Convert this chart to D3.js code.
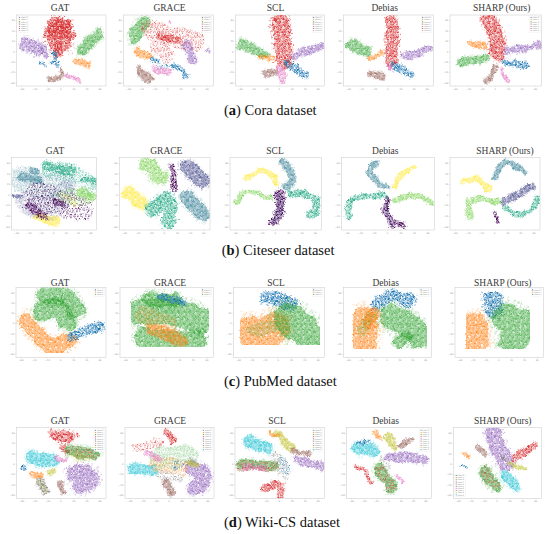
<!DOCTYPE html>
<html><head><meta charset="utf-8">
<script src="https://cdn.jsdelivr.net/npm/d3@7"></script>
<style>body{margin:0;background:#fff}svg{display:block}</style>
</head><body>
<svg id="fig" width="550" height="534"></svg>
<script>
// ---------------- data ----------------
const methods = ["GAT", "GRACE", "SCL", "Debias", "SHARP (Ours)"];
const datasets = ["Cora", "Citeseer", "PubMed", "Wiki-CS"];
const captionLetters = ["a", "b", "c", "d"];
const tab10 = ["#1f77b4","#ff7f0e","#2ca02c","#d62728","#9467bd","#8c564b","#e377c2","#7f7f7f","#bcbd22","#17becf"];
const viridis6 = ["#440154","#414487","#2a788e","#22a884","#7ad151","#fde725"];
const coraClasses = ["class 0","class 1","class 2","class 3","class 4","class 5","class 6"];
const pubmedClasses = ["class 0","class 1","class 2"];
const wikiClasses = ["class 0","class 1","class 2","class 3","class 4","class 5","class 6","class 7","class 8","class 9"];
const xTickLabels = [-60, -40, -20, 0, 20, 40, 60];
const yTickLabels = [-60, -40, -20, 0, 20, 40, 60];

// clusters of t-SNE points: c = class, s = spread, d = density (0 = sparse), p = ridge of the cluster (0..100 units)
const coraGAT = [
 {c:3,s:14,p:[[41,90.6],[54.1,87.3]]},
 {c:3,s:27,p:[[47.8,78.9],[46.6,64]]},
 {c:3,s:10,p:[[34,76],[60,72]]},
 {c:3,s:11,p:[[45.5,57.7],[45.5,46]]},
 {c:4,s:16,p:[[9.3,60.1],[24.3,53.1]]},
 {c:4,s:4.5,p:[[26.1,50.7],[31.7,43.7]]},
 {c:2,s:12,p:[[70.9,50.7],[82.1,62.4],[90.3,74.2]]},
 {c:1,s:7,p:[[65.3,36.6],[78.4,31]]},
 {c:0,s:5,p:[[40.3,50.7],[42.9,41.3]]},
 {c:0,s:4.5,p:[[26.9,32.9],[31.7,31]]},
 {c:0,s:5,p:[[40.3,35.7],[45.5,29.6]]},
 {c:5,s:7,p:[[36.6,9.9],[47.8,12.2]]},
 {c:5,s:4.5,p:[[49.3,23.5],[51.5,15.5]]},
 {c:6,s:5,p:[[56,15.5],[69,9.4]]}
];
const coraGRACE = [
 {c:2,s:15,p:[[22.2,92],[14.8,78.9],[11.1,70.4]]},
 {c:3,s:22,d:0,p:[[29.6,81.2],[55.6,69.5],[79.6,64.8]]},
 {c:3,s:15,d:0,p:[[37,57.7],[48.1,43.7]]},
 {c:3,s:8,p:[[40,72],[60,66]]},
 {c:6,s:3,p:[[50.5,94],[53,92]]},
 {c:4,s:9,p:[[70.4,60.1],[75.9,37.6]]},
 {c:4,s:4,p:[[92.5,51.5],[94,49.5]]},
 {c:1,s:9,p:[[14.8,49.8],[27.8,43.7]]},
 {c:0,s:6,p:[[31.5,37.6],[36,36]]},
 {c:0,s:7,p:[[57.4,29.6],[67.4,15.5]]},
 {c:5,s:9,p:[[16.7,21.6],[28.9,10.8]]},
 {c:6,s:7,p:[[33.3,24.9],[50,18.8]]},
 {c:0,s:8,d:0,p:[[40,30],[55,28]]}
];
const coraSCL = [
 {c:3,s:19,p:[[50.2,93],[52.1,64.8],[53.9,36.6]]},
 {c:2,s:11,p:[[5.2,60.1],[31.5,46.9]]},
 {c:1,s:5.6,p:[[28.8,42.3],[40.8,39]]},
 {c:4,s:9,p:[[65.2,45],[80.1,50.7],[95.1,57.7]]},
 {c:0,s:9,p:[[57.7,31.9],[77.2,16.9]]},
 {c:5,s:8,p:[[31.5,16.9],[42.7,20.2]]},
 {c:6,s:7,p:[[48.3,24.9],[52.1,8.5]]}
];
const coraDebias = [
 {c:3,s:15,p:[[51.9,93],[53.7,64.8],[51.9,36.6]]},
 {c:2,s:12,p:[[6.3,60.1],[24.1,49.8]]},
 {c:1,s:6,p:[[28.5,41.3],[41.9,46]]},
 {c:4,s:8,p:[[66.7,43.7],[81.5,47],[94.4,53]]},
 {c:0,s:9,p:[[55.6,29.6],[74.1,17.8]]},
 {c:5,s:9,p:[[29.6,18.8],[41.9,14]]},
 {c:6,s:4,p:[[48.1,31],[51.9,24.9]]}
];
const coraSHARP = [
 {c:3,s:17,p:[[41.8,93.9],[49.1,69.5],[50.9,46]]},
 {c:1,s:6,p:[[21.8,62.4],[36.4,56.3]]},
 {c:2,s:9,p:[[9.8,34.3],[38.2,40.4]]},
 {c:4,s:8,p:[[61.8,49.8],[80,54.5],[96.4,57.7]]},
 {c:0,s:7,p:[[59.3,36.6],[81.8,28.2]]},
 {c:5,s:6,p:[[40,8.5],[49.1,27.2]]},
 {c:6,s:5,p:[[56.4,24.9],[61.1,9.4]]}
];

const citeGAT = [
 {c:2,s:30,d:0,p:[[12,72],[40,62],[60,66]]},
 {c:0,s:30,d:0,p:[[30,50],[55,40],[80,30]]},
 {c:3,s:22,d:0,p:[[45,85],[75,78],[92,62]]},
 {c:1,s:25,d:0,p:[[15,40],[45,30],[60,55]]},
 {c:4,s:18,d:0,p:[[60,48],[88,45]]},
 {c:2,s:10,p:[[12,74],[30,70]]},
 {c:2,s:8,p:[[22,84],[28,82]]},
 {c:3,s:12,p:[[41.2,88.9],[68.6,83]]},
 {c:3,s:9,p:[[84.3,72.4],[97.3,66.8]]},
 {c:4,s:11,p:[[80.4,53],[96,47.5]]},
 {c:5,s:10,p:[[31.4,18.4],[52.9,12.4]]},
 {c:5,s:6,d:0,p:[[60,50],[75,35]]},
 {c:0,s:9,p:[[17.6,34.6],[37.3,20.7]]},
 {c:0,s:6,p:[[50,42],[60,36]]},
 {c:1,s:4,p:[[2.7,49.3],[10.6,47]]}
];
const citeGRACE = [
 {c:4,s:17,p:[[30.1,92.2],[44.9,73.7]]},
 {c:0,s:7,p:[[56.6,87.6],[60.3,57.6]]},
 {c:1,s:17,p:[[74.3,87.6],[90.8,69.1]]},
 {c:5,s:15,p:[[9.9,53],[24.6,36.9]]},
 {c:3,s:17,p:[[37.5,30],[52.2,43.8],[54,13.8]]},
 {c:2,s:16,p:[[74.3,46],[90.8,23]]}
];
const citeSCL = [
 {c:5,s:6,p:[[16.4,72.4],[29.1,81.6],[41.8,80.6],[50.9,66.8]]},
 {c:4,s:6,p:[[6.5,41.5],[14.5,52.1],[29.1,52.1],[43.6,46.1]]},
 {c:2,s:8,p:[[56.4,96],[64.7,83],[67.3,71.4],[60,60]]},
 {c:3,s:8,p:[[64.7,52.1],[80,50.7],[92.7,43.8],[90.9,27.6],[85.5,20.7]]},
 {c:0,s:10,p:[[52.7,50.7],[53.8,32.3],[45.5,11.5]]},
 {c:1,s:8,d:0,p:[[52.7,48],[53.8,32.3],[47,15]]}
];
const citeDebias = [
 {c:2,s:7,p:[[36,93.5],[29.5,80.6],[37.8,67.7],[47.5,61.3]]},
 {c:5,s:6,p:[[55.8,62.2],[62.9,77],[75.5,86.6]]},
 {c:4,s:7,p:[[57.6,42.9],[71.9,49.3],[86.3,48.4],[95.3,36.9]]},
 {c:3,s:7,p:[[6.5,20.7],[9,41.5],[23.4,49.3],[45,47.5]]},
 {c:0,s:8,p:[[48.6,41.5],[46.8,24.4],[54,12.4],[64.7,7.8]]},
 {c:1,s:6,d:0,p:[[48.6,41.5],[46.8,24.4],[54,12.4]]}
];
const citeSHARP = [
 {c:2,s:7,p:[[48.1,71.4],[53.7,87.6],[63,94.5],[81.5,81.6]]},
 {c:5,s:6,p:[[14.8,67.7],[27.8,72.4],[42.6,57.6]]},
 {c:1,s:8,p:[[59.3,40.1],[74.1,50.7],[90.7,61.3]]},
 {c:4,s:7,p:[[21.1,19.8],[19.6,39.2],[33.3,44.7],[51.9,40.1]]},
 {c:3,s:7,p:[[60.4,30.9],[79.6,21.7],[97,44.7]]},
 {c:0,s:4,p:[[50,26.3],[51.9,10.6]]}
];

const pubGAT = [
 {c:2,s:22,p:[[34.1,90.5],[54.4,86.7],[65.6,70]]},
 {c:2,s:22,p:[[28.5,67.6],[45,72],[56.3,53.3]]},
 {c:1,s:19,p:[[10,53.3],[23,34.3],[37.8,17.6],[58.1,23.8]]},
 {c:0,s:12,p:[[61.9,31.9],[76.7,39],[91.5,44.8]]}
];
const pubGRACE = [
 {c:2,s:30,p:[[21.4,65.2],[50,67.6],[85.7,53.3]]},
 {c:2,s:22,p:[[25,29.5],[57.1,24.8],[82.1,24.8]]},
 {c:2,s:18,p:[[32.1,84.3],[57.1,81.9]]},
 {c:0,s:9,p:[[42.9,89],[66,79.5]]},
 {c:1,s:13,p:[[33.9,41.4],[50,34.3],[66,24.8]]},
 {c:1,s:20,d:0,p:[[25,60],[50,50]]}
];
const pubSCL = [
 {c:0,s:16,p:[[36.6,86.7],[62.3,79.5]]},
 {c:1,s:36,p:[[17,38],[30,28],[44,44]]},
 {c:2,s:36,p:[[60,57],[75,40],[85,27]]},
 {c:2,s:14,d:0,p:[[20,40],[45,45]]}
];
const pubDebias = [
 {c:0,s:15,p:[[37.7,77.1],[52.8,89],[73.6,81.9]]},
 {c:1,s:32,p:[[23,55],[22,24]]},
 {c:1,s:14,p:[[34,65.2],[28,50]]},
 {c:2,s:30,p:[[54,58],[73.6,46.2],[84.9,31.9]]},
 {c:2,s:14,p:[[62.3,22.4],[70,30]]},
 {c:2,s:12,d:0,p:[[20,40],[30,60]]}
];
const pubSHARP = [
 {c:0,s:22,p:[[42.3,84],[43,70]]},
 {c:1,s:32,p:[[20,46],[22.6,22]]},
 {c:2,s:34,p:[[58,58],[76,45],[64.2,25]]}
];

const wikiGAT = [
 {c:3,s:14,p:[[42.9,89.6],[56,87.3]]},
 {c:3,s:6,p:[[52.2,73.1],[54,68]]},
 {c:3,s:4,p:[[66.4,92],[67,90]]},
 {c:9,s:16,p:[[16.8,59],[37.3,54.2]]},
 {c:4,s:22,p:[[65.3,35.4],[82.1,33],[70.9,18.9]]},
 {c:2,s:14,p:[[59.7,68.4],[85.8,63.7]]},
 {c:3,s:12,d:0,p:[[59.7,68.4],[85.8,63.7]]},
 {c:8,s:10,d:0,p:[[62,62],[80,58]]},
 {c:0,s:4,p:[[4.9,44.8],[10.4,43.9]]},
 {c:1,s:7,p:[[16.8,35.4],[24.3,31.6]]},
 {c:7,s:9,p:[[26.1,23.6],[31.7,11.8]]},
 {c:8,s:6,d:0,p:[[26.1,23.6],[31.7,11.8]]},
 {c:5,s:7,p:[[48.5,23.6],[50.4,10.8]]},
 {c:6,s:5,p:[[42.9,59],[53.7,56.6]]},
 {c:8,s:5,p:[[35.4,35.4],[41,37.7]]}
];
const wikiGRACE = [
 {c:3,s:8,p:[[46.8,92.9],[52.4,84.9]]},
 {c:3,s:10,d:0,p:[[11.2,73.1],[35.6,77.8]]},
 {c:9,s:12,p:[[7.5,44.8],[30,40.1]]},
 {c:4,s:18,p:[[74.9,44.8],[88,30.7],[76.8,16.5]]},
 {c:5,s:8,p:[[44.9,23.6],[52.4,9.4]]},
 {c:2,s:25,d:0,p:[[39,58],[69,62]]},
 {c:1,s:18,d:0,p:[[35,50],[62,44]]},
 {c:6,s:6,p:[[24,64],[39,58]]},
 {c:0,s:10,d:0,p:[[55,45],[62,50]]},
 {c:7,s:10,d:0,p:[[40,35],[60,30]]},
 {c:8,s:5,p:[[69.3,51.9],[80.5,49.5]]}
];
const wikiSCL = [
 {c:9,s:14,p:[[14.9,80.2],[35.4,73.1]]},
 {c:8,s:9,p:[[46.6,92],[54.1,82.5],[61.6,73.1]]},
 {c:1,s:4,p:[[39.2,94.3],[46.6,89.6]]},
 {c:5,s:6,p:[[65.3,68.4],[81.5,63.7]]},
 {c:4,s:10,p:[[69,54.2],[82.1,50.5],[95.1,47.2]]},
 {c:2,s:10,p:[[5.6,50.5],[43,45.8]]},
 {c:6,s:6,p:[[9.3,45.8],[31.7,43.4]]},
 {c:3,s:10,d:0,p:[[5.6,48],[43,45]]},
 {c:3,s:8,p:[[31.7,14.2],[48.5,21.2],[50.4,4.7]]},
 {c:7,s:12,d:0,p:[[45,60],[55,35]]},
 {c:0,s:8,d:0,p:[[50,55],[58,40]]}
];
const wikiDebias = [
 {c:9,s:14,p:[[11.8,73.1],[31.4,68.4]]},
 {c:0,s:3,p:[[9.8,80.2],[25.5,81.1]]},
 {c:8,s:9,p:[[47.1,89.6],[54.9,73.1]]},
 {c:1,s:5,p:[[31.4,94.3],[39.2,87.3]]},
 {c:5,s:6,p:[[62.7,75.5],[74.5,83.5]]},
 {c:4,s:11,p:[[49,59],[72.5,59],[92.2,54.2]]},
 {c:3,s:6,p:[[9.8,44.8],[19.6,37.7],[27.5,25.9]]},
 {c:2,s:14,p:[[37.3,42.5],[51,16.5]]},
 {c:3,s:12,d:0,p:[[37.3,42.5],[51,16.5]]},
 {c:6,s:5,p:[[58.8,30.7],[64.7,25.9]]},
 {c:7,s:8,d:0,p:[[40,55],[48,45]]}
];
const wikiSHARP = [
 {c:4,s:20,p:[[45.3,92],[50.9,68.4],[58.5,51.9]]},
 {c:5,s:6,p:[[26.4,73.1],[34,64.6]]},
 {c:1,s:5,p:[[11.3,66],[16.2,59.9]]},
 {c:0,s:3,p:[[7.5,45.8],[14,44.8]]},
 {c:3,s:9,p:[[69.8,59],[81.1,68.4],[90.6,75.5]]},
 {c:8,s:5,p:[[62.3,50.5],[79.2,42.5]]},
 {c:9,s:12,p:[[58.5,33],[69.8,18.9]]},
 {c:2,s:15,p:[[35.8,37.7],[47.2,18.9]]},
 {c:3,s:12,d:0,p:[[35.8,37.7],[47.2,18.9]]},
 {c:7,s:4,p:[[54,60],[57,58]]}
];

// ---------------- layout ----------------
const rows = [
 {clusters:[coraGAT,coraGRACE,coraSCL,coraDebias,coraSHARP], pal:"tab", classes:coraClasses, legend:["tl","tr","tr","tr","tr"],
  T:15, B:86, frames:[[16.7,106],[123.3,213.3],[235.3,324.3],[343.3,433.3],[450,541.7]], titleX:[60,169.5,275.5,384.7,501.7], titleY:10.8, capX:224, capY:114.5},
 {clusters:[citeGAT,citeGRACE,citeSCL,citeDebias,citeSHARP], pal:"vir", classes:null, legend:[null,null,null,null,null],
  T:157.7, B:230, frames:[[11.7,96.7],[119.3,210],[230,321.7],[341.7,434.3],[450,540]], titleX:[55,166.3,275,385.3,505], titleY:154, capX:221.7, capY:254.5},
 {clusters:[pubGAT,pubGRACE,pubSCL,pubDebias,pubSHARP], pal:"tab", classes:pubmedClasses, legend:["tr","tr","tr","tr","tr"],
  T:287.3, B:357.3, frames:[[16,106],[120,213.3],[233.3,324.3],[343.3,431.7],[455,543.3]], titleX:[60,170,276,385.7,502.8], titleY:285.8, capX:224, capY:386},
 {clusters:[wikiGAT,wikiGRACE,wikiSCL,wikiDebias,wikiSHARP], pal:"tab", classes:wikiClasses, legend:["tr","tr","tr","tr","bl"],
  T:427.7, B:498.3, frames:[[16.7,106],[125,214],[235,324.3],[346.7,431.7],[453.3,541.7]], titleX:[60,170,277,385.7,502.8], titleY:423.5, capX:224, capY:527}
];

const svg = d3.select("#fig");
const defs = svg.append("defs");
const TILE = 6;
const denseDots = [[0.5,0.6],[2.1,0.2],[3.6,1.0],[5.2,0.5],[1.3,1.9],[2.9,2.4],[4.5,2.1],[0.2,3.3],[1.9,3.7],[3.5,3.4],[5.1,3.8],[0.9,5.1],[2.6,5.3],[4.2,5.0],[5.7,5.6]];
const sparseDots = [[0.8,1.0],[3.9,0.6],[2.4,3.1],[5.3,3.6],[1.0,5.2],[4.0,5.0]];
const haloDots = [[1.1,0.9],[4.4,2.2],[2.0,4.6]];
const palettes = {tab: tab10, vir: viridis6};
Object.entries(palettes).forEach(([name, cols]) => {
  cols.forEach((col, i) => {
    [["d", denseDots, 0.64], ["s", sparseDots, 0.58], ["h", haloDots, 0.55]].forEach(([kind, dots, r]) => {
      const p = defs.append("pattern").attr("id", `${name}-${i}-${kind}`)
        .attr("patternUnits", "userSpaceOnUse").attr("width", TILE).attr("height", TILE)
        .attr("patternTransform", `translate(${(i * 1.7) % TILE},${(i * 2.3) % TILE})`);
      p.selectAll("circle").data(dots).join("circle")
        .attr("cx", d => d[0]).attr("cy", d => d[1]).attr("r", r).attr("fill", col);
    });
  });
});
// scatter texture: ragged cluster edges + jittered points
const flt = defs.append("filter").attr("id", "scatter").attr("x", "-15%").attr("y", "-15%").attr("width", "130%").attr("height", "130%");
flt.append("feTurbulence").attr("type", "fractalNoise").attr("baseFrequency", 0.09).attr("numOctaves", 2).attr("seed", 7).attr("result", "n1");
flt.append("feDisplacementMap").attr("in", "SourceGraphic").attr("in2", "n1").attr("scale", 7).attr("xChannelSelector", "R").attr("yChannelSelector", "G").attr("result", "d1");
flt.append("feTurbulence").attr("type", "turbulence").attr("baseFrequency", 0.7).attr("numOctaves", 1).attr("seed", 3).attr("result", "n2");
flt.append("feDisplacementMap").attr("in", "d1").attr("in2", "n2").attr("scale", 2.5).attr("xChannelSelector", "R").attr("yChannelSelector", "B");

let clipId = 0;
function drawPanel(row, j) {
  const [L, R] = row.frames[j];
  const T = row.T, B = row.B;
  const x = d3.scaleLinear().domain([0, 100]).range([L, R]);
  const y = d3.scaleLinear().domain([0, 100]).range([B, T]);
  const k = (R - L) / 100;
  const g = svg.append("g");
  const cid = "clip" + (clipId++);
  defs.append("clipPath").attr("id", cid).append("rect").attr("x", L).attr("y", T).attr("width", R - L).attr("height", B - T);
  g.append("rect").attr("x", L).attr("y", T).attr("width", R - L).attr("height", B - T).attr("fill", "#fff");
  const gc = g.append("g").attr("clip-path", `url(#${cid})`).append("g").attr("filter", "url(#scatter)");
  const line = d3.line().x(d => x(d[0])).y(d => y(d[1])).curve(d3.curveCatmullRom.alpha(0.5));
  row.clusters[j].forEach(cl => {
    const dense = cl.d !== 0;
    if (dense) {
      gc.append("path").attr("d", line(cl.p)).attr("fill", "none")
        .attr("stroke", `url(#${row.pal}-${cl.c}-h)`).attr("stroke-width", cl.s * k * 1.3)
        .attr("stroke-linecap", "round").attr("stroke-linejoin", "round");
    }
    gc.append("path").attr("d", line(cl.p)).attr("fill", "none")
      .attr("stroke", `url(#${row.pal}-${cl.c}-${dense ? "d" : "s"})`).attr("stroke-width", cl.s * k * (dense ? 0.95 : 1))
      .attr("stroke-linecap", "round").attr("stroke-linejoin", "round");
  });
  // frame
  g.append("rect").attr("x", L).attr("y", T).attr("width", R - L).attr("height", B - T)
    .attr("fill", "none").attr("stroke", "#c8c8c8").attr("stroke-width", 0.5);
  // axes (tick labels)
  const xt = d3.scaleLinear().domain([-67, 70]).range([L, R]);
  const yt = d3.scaleLinear().domain([-67, 70]).range([B, T]);
  const ax = g.append("g").attr("transform", `translate(0,${B})`)
    .call(d3.axisBottom(xt).tickValues(xTickLabels).tickSize(1).tickPadding(0.8));
  const ay = g.append("g").attr("transform", `translate(${L},0)`)
    .call(d3.axisLeft(yt).tickValues(yTickLabels.filter(v => yt(v) > T)).tickSize(1).tickPadding(0.8));
  [ax, ay].forEach(a => {
    a.select(".domain").remove();
    a.selectAll("line").attr("stroke", "#bbb").attr("stroke-width", 0.3);
    a.selectAll("text").attr("fill", "#999").style("font-size", "2.4px").style("font-family", "DejaVu Sans");
  });
  // legend
  const pos = row.legend[j];
  if (pos && row.classes) {
    const n = row.classes.length, eh = 2.15, lw = 10.5, lh = n * eh + 1.2;
    const lx = pos === "tl" || pos === "bl" ? L + 1.5 : R - lw - 1.5;
    const ly = pos === "bl" ? B - lh - 1.5 : T + 1.2;
    const lg = g.append("g");
    lg.append("rect").attr("x", lx).attr("y", ly).attr("width", lw).attr("height", lh)
      .attr("fill", "#fff").attr("fill-opacity", 0.85).attr("stroke", "#ddd").attr("stroke-width", 0.25);
    const ent = lg.selectAll("g").data(row.classes).join("g")
      .attr("transform", (d, i) => `translate(${lx + 1.4},${ly + 1.4 + i * eh})`);
    ent.append("circle").attr("r", 0.55).attr("fill", (d, i) => palettes[row.pal][i]);
    ent.append("text").text(d => d).attr("x", 1.3).attr("y", 0.65)
      .attr("fill", "#888").style("font-size", "1.9px").style("font-family", "DejaVu Sans");
  }
  // title
  svg.append("text").attr("x", row.titleX[j]).attr("y", row.titleY).attr("text-anchor", "middle")
    .style("font-family", "Liberation Serif").style("font-size", "9.5px").style("font-weight", "normal").attr("fill", "#3a3a3a")
    .text(methods[j]);
}

rows.forEach((row, i) => {
  row.clusters.forEach((_, j) => drawPanel(row, j));
  const t = svg.append("text").attr("x", row.capX).attr("y", row.capY)
    .style("font-family", "Liberation Serif").style("font-size", "14.5px").attr("fill", "#111");
  t.append("tspan").text("(");
  t.append("tspan").text(captionLetters[i]).style("font-weight", "bold");
  t.append("tspan").text(") " + datasets[i] + " dataset");
});
</script>
</body></html>
